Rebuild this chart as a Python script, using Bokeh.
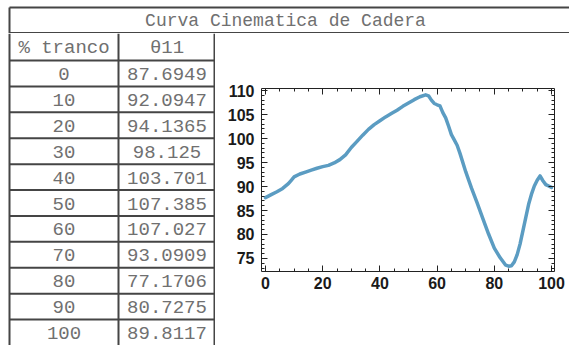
from bokeh.plotting import figure
from bokeh.layouts import column, row
from bokeh.models import Range1d, LinearAxis, SingleIntervalTicker, CustomJSTickFormatter
from bokeh.core.properties import value
from bokeh.embed import file_html
from bokeh.resources import INLINE

# ---------------- data ----------------
title_text = "Curva Cinematica de Cadera"
col_headers = ["% tranco", "\u03b811"]
pct = [0, 10, 20, 30, 40, 50, 60, 70, 80, 90, 100]
theta = [87.6949, 92.0947, 94.1365, 98.125, 103.701, 107.385, 107.027,
         93.0909, 77.1706, 80.7275, 89.8117]

curve_x = [0, 2, 4, 6, 8, 9, 10, 12, 14, 16, 18, 20, 22, 24, 26, 28, 30, 32, 34,
           36, 38, 40, 42, 44, 46, 48, 50, 52, 54, 56, 57, 58, 59, 60, 61, 62,
           63, 64, 65, 66, 67, 68, 70, 72, 74, 76, 78, 80, 82, 84, 85, 86, 87,
           88, 89, 90, 91, 92, 93, 94, 95, 96, 97, 98, 99, 100]
curve_y = [87.69, 88.3, 88.9, 89.6, 90.6, 91.3, 92.0, 92.6, 93.0, 93.4, 93.8,
           94.14, 94.4, 94.9, 95.6, 96.6, 98.13, 99.4, 100.7, 101.9, 102.9,
           103.70, 104.5, 105.2, 105.9, 106.7, 107.39, 108.1, 108.7, 109.1,
           108.9, 108.0, 107.3, 107.03, 106.8, 105.4, 104.3, 102.6, 100.8, 99.7,
           98.6, 96.9, 93.09, 89.7, 86.6, 83.3, 80.1, 77.17, 75.2, 73.6, 73.4,
           73.5, 74.3, 75.8, 78.0, 80.73, 83.5, 86.3, 88.4, 90.1, 91.3, 92.2,
           91.2, 90.4, 90.1, 89.81]

# ---------------- layout constants ----------------
W = 569
TITLE_H = 33
BODY_H = 312
BOTTOM_H = 2
TABLE_W = 215
CHART_W = W - TABLE_W
LEFT_X = 9
COL1_X = 118
TOP_Y = 7
HEADER_H = 27
ROW_H = (BODY_H - HEADER_H) / len(pct)
LINE_C = "#454545"
TEXT_C = "#707070"
MONO = value("Liberation Mono")


def blank(width, height, xr, yr):
    f = figure(width=width, height=height, x_range=xr, y_range=yr,
               output_backend="svg", toolbar_location=None,
               x_axis_location=None, y_axis_location=None, min_border=0,
               outline_line_color=None)
    f.grid.visible = False
    f.frame_align = False
    f.background_fill_color = "white"
    f.border_fill_color = "white"
    return f


# ---------------- title row ----------------
tf = blank(W, TITLE_H, Range1d(0, W), Range1d(TITLE_H, 0))
tf.segment(x0=[LEFT_X, LEFT_X, LEFT_X], y0=[TOP_Y, TITLE_H - 0.5, TOP_Y],
           x1=[W, W, LEFT_X], y1=[TOP_Y, TITLE_H - 0.5, TITLE_H],
           line_color=LINE_C, line_width=2)
tf.text(x=[285], y=[(TOP_Y + TITLE_H) / 2 + 0.5], text=[title_text],
        text_font=MONO, text_font_size="18px", text_align="center",
        text_baseline="middle", text_color=TEXT_C)

# ---------------- table ----------------
tb = blank(TABLE_W, BODY_H, Range1d(0, TABLE_W), Range1d(BODY_H, 0))
hy = [HEADER_H + ROW_H * i for i in range(len(pct))]
tb.segment(x0=[LEFT_X] * len(hy), y0=hy, x1=[TABLE_W] * len(hy), y1=hy,
           line_color=LINE_C, line_width=2)
vx = [LEFT_X, COL1_X, TABLE_W - 1]
tb.segment(x0=vx, y0=[0] * 3, x1=vx, y1=[BODY_H] * 3,
           line_color=LINE_C, line_width=2)
c1 = (LEFT_X + COL1_X) / 2
c2 = (COL1_X + TABLE_W) / 2
tb.text(x=[c1, c2], y=[HEADER_H / 2 + 1] * 2, text=col_headers, text_font=MONO,
        text_font_size="19px", text_align="center", text_baseline="middle",
        text_color=TEXT_C)
ry = [HEADER_H + ROW_H * (i + 0.5) + 0.5 for i in range(len(pct))]
tb.text(x=[c1] * len(pct), y=ry, text=[str(p) for p in pct], text_font=MONO,
        text_font_size="19px", text_align="center", text_baseline="middle",
        text_color=TEXT_C)
tb.text(x=[c2] * len(pct), y=ry, text=[f"{v:.6g}" for v in theta],
        text_font=MONO, text_font_size="19px", text_align="center",
        text_baseline="middle", text_color=TEXT_C)

# ---------------- chart ----------------
ch = figure(width=CHART_W, height=BODY_H, x_range=Range1d(-1.4, 101.05),
            y_range=Range1d(72.29, 110.42), output_backend="svg",
            toolbar_location=None, min_border_left=46, min_border_right=15,
            min_border_top=55, min_border_bottom=74,
            outline_line_color=None)
ch.frame_align = False
ch.grid.visible = False
ch.line(curve_x, curve_y, line_width=3.5, line_color="#5B9CC2",
        line_join="round", line_cap="round")

xt = SingleIntervalTicker(interval=20, num_minor_ticks=4)
yt = SingleIntervalTicker(interval=5, num_minor_ticks=5)
ch.xaxis.ticker = xt
ch.yaxis.ticker = yt
blank_fmt = CustomJSTickFormatter(code="return ''")
ch.add_layout(LinearAxis(ticker=xt, formatter=blank_fmt), "above")
ch.add_layout(LinearAxis(ticker=yt, formatter=blank_fmt), "right")
for ax in ch.axis:
    ax.axis_line_color = "#222222"
    ax.axis_line_width = 1
    ax.major_tick_in = 6
    ax.major_tick_out = 0
    ax.minor_tick_in = 3
    ax.minor_tick_out = 0
    ax.major_tick_line_color = "#222222"
    ax.minor_tick_line_color = "#222222"
    ax.major_label_text_font = "Liberation Sans"
    ax.major_label_text_font_style = "bold"
    ax.major_label_text_font_size = "16px"
    ax.major_label_text_color = "#1a1a1a"
for ax in ch.above + ch.right:
    ax.major_label_standoff = 0
ch.xaxis[0].major_label_standoff = 11
ch.yaxis[0].major_label_standoff = 7

# bottom border
bf = blank(W, BOTTOM_H, Range1d(0, W), Range1d(0, BOTTOM_H))
bf.segment(x0=[LEFT_X, TABLE_W], y0=[1, 1], x1=[TABLE_W, W], y1=[1, 1],
           line_color=["#454545", "#aaaaaa"], line_width=2)

layout = column(tf, row(tb, ch), bf)
open("out.html", "w").write(file_html(layout, INLINE))
